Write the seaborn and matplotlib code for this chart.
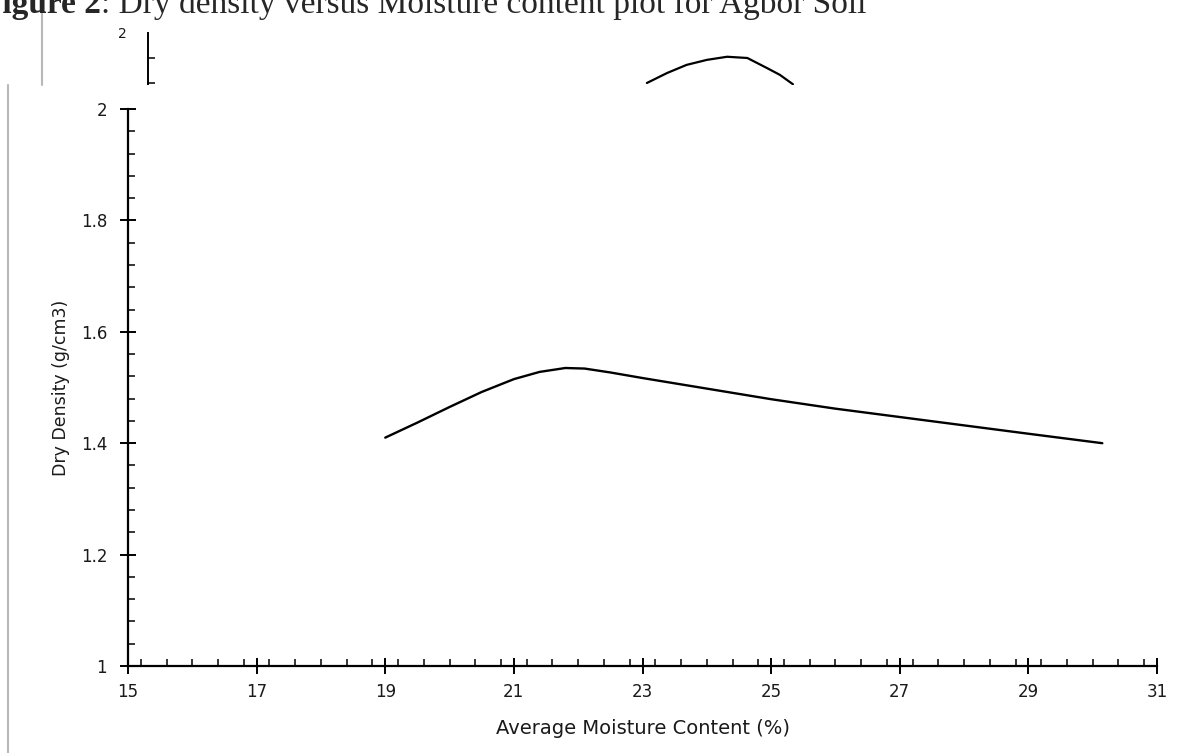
import matplotlib
matplotlib.use("Agg")
import matplotlib.pyplot as plt
import seaborn as sns
import pandas as pd
from matplotlib.patches import Rectangle
from matplotlib.lines import Line2D
from matplotlib.ticker import MultipleLocator

# ---- data ----
moisture = [19.0, 19.5, 20.0, 20.5, 21.0, 21.4, 21.8, 22.1, 22.5, 23.0, 24.0, 25.0, 26.0, 27.0, 28.0, 29.0, 30.15]
dry_density = [1.410, 1.437, 1.465, 1.492, 1.515, 1.528, 1.535, 1.534, 1.527, 1.517, 1.498, 1.479, 1.462, 1.447, 1.432, 1.417, 1.400]

# partially hidden curve of the figure behind (only its top is visible)
ghost_moisture = [21.90, 22.18, 22.45, 22.73, 23.01, 23.29, 23.56, 23.74, 23.92]
ghost_density = [1.920, 1.936, 1.949, 1.957, 1.962, 1.960, 1.944, 1.933, 1.918]

x_ticks = [15, 17, 19, 21, 23, 25, 27, 29, 31]
y_ticks = [1, 1.2, 1.4, 1.6, 1.8, 2]
y_ticklabels = ["1", "1.2", "1.4", "1.6", "1.8", "2"]

caption_bold = "Figure 2"
caption_rest = ": Dry density versus Moisture content plot for Agbor Soil"
x_label = "Average Moisture Content (%)"
y_label = "Dry Density (g/cm3)"

sns.set_theme(style="white")
plt.rcParams["font.family"] = ["DejaVu Sans"]

W, H = 1180, 753
fig = plt.figure(figsize=(W / 100, H / 100), dpi=100)
fig.patch.set_facecolor("white")

def fx(px):
    return px / W

def fy(py):
    return 1 - py / H

TXT = "#1a1a1a"

# ---- ghost axes (figure behind) ----
gax = fig.add_axes([fx(148), 0, fx(W - 148), fy(33)], zorder=0)
gdf = pd.DataFrame({"m": ghost_moisture, "d": ghost_density})
sns.lineplot(data=gdf, x="m", y="d", ax=gax, color="black", linewidth=1.6, sort=False, estimator=None)
gax.set_xlim(15, 15 + (W - 148) / 72.3)
gax.set_ylim(2 - (H - 33) / 625, 2)
for s in ["top", "right", "bottom"]:
    gax.spines[s].set_visible(False)
gax.spines["left"].set_linewidth(1.4)
gax.spines["left"].set_color("black")
gax.set_xticks([])
gax.set_yticks([2])
gax.set_yticklabels(["2"], fontsize=10, color=TXT)
gax.yaxis.set_minor_locator(MultipleLocator(0.04))
gax.tick_params(axis="y", which="major", direction="inout", length=10, width=1.3, color="black", pad=10)
gax.tick_params(axis="y", which="minor", direction="in", length=5, width=1.1, color="black", left=True)
gax.set_xlabel("")
gax.set_ylabel("")
gax.patch.set_alpha(0)

# white panel covering the lower part (the main screenshot)
fig.patches.append(Rectangle((0, 0), 1, fy(85), transform=fig.transFigure,
                             facecolor="white", edgecolor="none", zorder=1))
# grey vertical edges of the screenshots
fig.add_artist(Line2D([fx(42), fx(42)], [fy(85), fy(12)], color="#b8b8b8", linewidth=1.5, zorder=3))
fig.add_artist(Line2D([fx(8), fx(8)], [0, fy(85)], color="#b8b8b8", linewidth=1.5, zorder=3))

# ---- main axes ----
ax = fig.add_axes([fx(128), fy(666), fx(1157 - 128), fy(109) - fy(666)], zorder=2)
df = pd.DataFrame({"Average Moisture Content (%)": moisture, "Dry Density (g/cm3)": dry_density})
sns.lineplot(data=df, x="Average Moisture Content (%)", y="Dry Density (g/cm3)", ax=ax,
             color="black", linewidth=1.7, sort=False, estimator=None)
ax.set_xlim(15, 31)
ax.set_ylim(1, 2)
ax.set_xticks(x_ticks)
ax.set_xticklabels([str(t) for t in x_ticks], fontsize=12)
ax.set_yticks(y_ticks)
ax.set_yticklabels(y_ticklabels, fontsize=12)
ax.xaxis.set_minor_locator(MultipleLocator(0.4))
ax.yaxis.set_minor_locator(MultipleLocator(0.04))
for s in ["top", "right"]:
    ax.spines[s].set_visible(False)
for s in ["left", "bottom"]:
    ax.spines[s].set_linewidth(1.6)
    ax.spines[s].set_color("black")
ax.tick_params(which="major", direction="inout", length=11, width=1.4, color="black", labelcolor=TXT)
ax.tick_params(which="minor", direction="in", length=5, width=1.1, color="black")
ax.tick_params(which="both", bottom=True, left=True)
ax.tick_params(axis="x", which="major", pad=6.5)
ax.tick_params(axis="y", which="major", pad=9.5)
ax.set_xlabel(x_label, fontsize=14, color=TXT, labelpad=13)
ax.set_ylabel(y_label, fontsize=12.5, color=TXT, labelpad=8)
ax.patch.set_alpha(0)

# ---- caption (cut at the top-left edge) ----
t1 = fig.text(fx(-18), fy(13), caption_bold, fontsize=24, fontweight="bold",
              family=["Liberation Serif"], ha="left", va="baseline", zorder=4)
ax.annotate(caption_rest, xy=(1, 0), xycoords=t1, xytext=(0, 0), textcoords="offset points",
            fontsize=24, family=["Liberation Serif"], ha="left", va="bottom",
            annotation_clip=False)

fig.savefig("out.png", dpi=100, facecolor="white")
